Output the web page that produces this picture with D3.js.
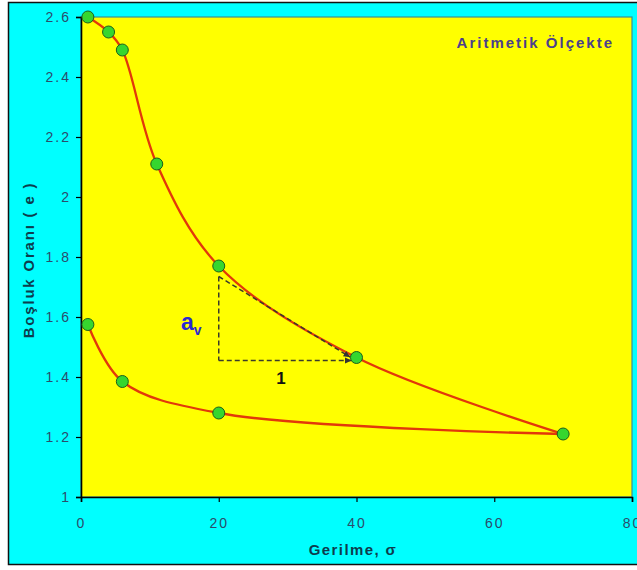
<!DOCTYPE html>
<html>
<head>
<meta charset="utf-8">
<script src="https://cdn.jsdelivr.net/npm/d3@7"></script>
<style>
  html, body { margin: 0; padding: 0; background: #ffffff; }
  svg { display: block; }
  text { font-family: "Liberation Sans", Arial, sans-serif; }
</style>
</head>
<body>
<svg id="chart" width="637" height="570"></svg>
<script>
// Loading curve (stress vs void ratio)
const loadStress = [1, 4, 6, 11, 20, 40, 70];
const loadVoid   = [2.6, 2.55, 2.49, 2.11, 1.77, 1.465, 1.21];
// Unloading curve
const unloadStress = [1, 6, 20, 70];
const unloadVoid   = [1.575, 1.385, 1.28, 1.21];
// Axis ticks
const xTicks = [0, 20, 40, 60, 80];
const yTicks = [1, 1.2, 1.4, 1.6, 1.8, 2, 2.2, 2.4, 2.6];
// Slope triangle corners: top, bottom-left, right end
const triX = [20, 20, 39.3];
const triY = [1.735, 1.455, 1.455];
const hypEnd = [39.1, 1.466];

const svg = d3.select("#chart");

// outer frame
svg.append("rect")
  .attr("x", 8.5).attr("y", 2.5).attr("width", 640).attr("height", 562)
  .attr("fill", "#00ffff").attr("stroke", "#111").attr("stroke-width", 1.5);

const x = d3.scaleLinear().domain([0, 80]).range([81, 632]);
const y = d3.scaleLinear().domain([1, 2.6]).range([497, 17]);

// plot area
svg.append("rect")
  .attr("x", x(0)).attr("y", y(2.6))
  .attr("width", x(80) - x(0)).attr("height", y(1) - y(2.6))
  .attr("fill", "#ffff00").attr("stroke", "#3d8f8f").attr("stroke-width", 1.2);

const tickColor = "#2b4c6b";

// y axis
const yAxis = d3.axisLeft(y).tickValues(yTicks).tickSize(5).tickPadding(5)
  .tickFormat(d3.format("~g"));
const gy = svg.append("g").attr("transform", `translate(${x(0)},0)`).call(yAxis);
gy.select(".domain").attr("stroke", "#000").attr("stroke-width", 1.6);
gy.selectAll(".tick line").attr("stroke", "#000").attr("stroke-width", 1.2);
gy.selectAll(".tick text")
  .attr("fill", tickColor).attr("font-size", 14)
  .style("letter-spacing", "2px")
  .attr("font-family", "Liberation Sans, Arial, sans-serif");

// x axis
const xAxis = d3.axisBottom(x).tickValues(xTicks).tickSize(5).tickPadding(16)
  .tickFormat(d3.format("d"));
const gx = svg.append("g").attr("transform", `translate(0,${y(1)})`).call(xAxis);
gx.select(".domain").attr("stroke", "#000").attr("stroke-width", 1.6);
gx.selectAll(".tick line").attr("stroke", "#000").attr("stroke-width", 1.2);
gx.selectAll(".tick text")
  .attr("fill", tickColor).attr("font-size", 14)
  .style("letter-spacing", "2px")
  .attr("font-family", "Liberation Sans, Arial, sans-serif");

// axis titles
svg.append("text")
  .attr("x", 353).attr("y", 555)
  .attr("text-anchor", "middle")
  .attr("font-size", 15).attr("font-weight", "bold")
  .attr("fill", "#0d3d4d")
  .style("letter-spacing", "1.4px")
  .text("Gerilme, σ");

svg.append("text")
  .attr("transform", "translate(34,260) rotate(-90)")
  .attr("text-anchor", "middle")
  .attr("font-size", 15).attr("font-weight", "bold")
  .attr("fill", "#0d3d4d")
  .style("letter-spacing", "1.8px")
  .text("Boşluk Oranı ( e )");

svg.append("text")
  .attr("x", 614).attr("y", 48)
  .attr("text-anchor", "end")
  .attr("font-size", 15).attr("font-weight", "bold")
  .attr("fill", "#4b3f8c")
  .style("letter-spacing", "2px")
  .text("Aritmetik Ölçekte");

// arrow marker for the slope triangle
const defs = svg.append("defs");
defs.append("marker")
  .attr("id", "arr").attr("viewBox", "0 0 10 10")
  .attr("refX", 9).attr("refY", 5)
  .attr("markerWidth", 5).attr("markerHeight", 5)
  .attr("orient", "auto")
  .append("path").attr("d", "M0,1 L9,5 L0,9 Z").attr("fill", "#333");

// curves
const line = d3.line()
  .x(d => x(d[0])).y(d => y(d[1]))
  .curve(d3.curveCatmullRom.alpha(0.5));

const loadPts = loadStress.map((s, i) => [s, loadVoid[i]]);
const unloadPts = unloadStress.map((s, i) => [s, unloadVoid[i]]);

[loadPts, unloadPts].forEach(pts => {
  svg.append("path").datum(pts)
    .attr("d", line)
    .attr("fill", "none")
    .attr("stroke", "#e2380a")
    .attr("stroke-width", 2.3);
});

// slope triangle, drawn over the curve
const dashStyle = sel => sel.attr("stroke", "#3a3a2a").attr("stroke-width", 1.5)
  .attr("stroke-dasharray", "5,3").attr("fill", "none");

svg.append("line")
  .attr("x1", x(triX[0])).attr("y1", y(triY[0]))
  .attr("x2", x(triX[1])).attr("y2", y(triY[1]))
  .call(dashStyle);
svg.append("line")
  .attr("x1", x(triX[1])).attr("y1", y(triY[1]))
  .attr("x2", x(triX[2])).attr("y2", y(triY[2]))
  .call(dashStyle).attr("marker-end", "url(#arr)");
svg.append("line")
  .attr("x1", x(triX[0])).attr("y1", y(triY[0]))
  .attr("x2", x(hypEnd[0])).attr("y2", y(hypEnd[1]))
  .call(dashStyle).attr("marker-end", "url(#arr)");

// markers
svg.append("g").selectAll("circle")
  .data(loadPts.concat(unloadPts.slice(0, 3)))
  .join("circle")
  .attr("cx", d => x(d[0])).attr("cy", d => y(d[1]))
  .attr("r", 6)
  .attr("fill", "#36d62e")
  .attr("stroke", "#1c5e1c").attr("stroke-width", 1);

// slope labels
const av = svg.append("text")
  .attr("x", 181).attr("y", 330)
  .attr("font-weight", "bold").attr("fill", "#2a2ad0");
av.append("tspan").attr("font-size", 23).text("a");
av.append("tspan").attr("font-size", 14).attr("dy", 5).text("v");

svg.append("text")
  .attr("x", 281).attr("y", 384)
  .attr("text-anchor", "middle")
  .attr("font-size", 17).attr("font-weight", "bold")
  .attr("fill", "#111")
  .text("1");
</script>
</body>
</html>
